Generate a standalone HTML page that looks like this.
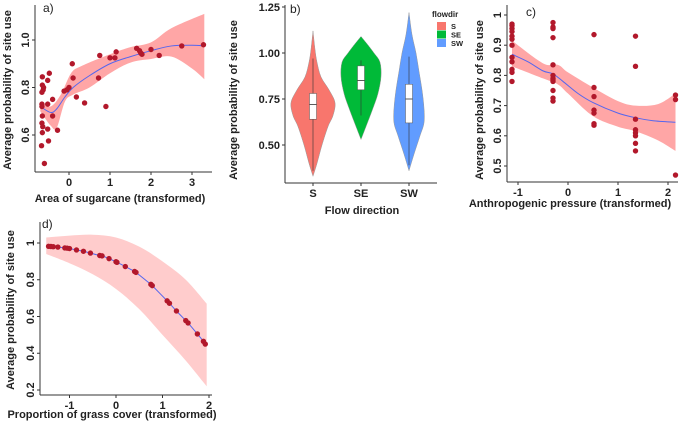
<!DOCTYPE html>
<html><head><meta charset="utf-8"><style>
body{margin:0;background:#fff;width:685px;height:422px;overflow:hidden}
svg{font-family:"Liberation Sans",sans-serif}
.tk{font-size:11px;font-weight:bold;fill:#222}
.tt{font-size:11px;font-weight:bold;fill:#222}
</style></head><body>
<svg id="s" width="685" height="422"></svg>
<script>
// Panel a data
const aX=[-0.65,-0.65,-0.63,-0.66,-0.62,-0.66,-0.66,-0.65,-0.66,-0.64,-0.65,-0.67,-0.6,-0.52,-0.48,-0.52,-0.52,-0.5,-0.4,-0.4,-0.28,-0.12,-0.05,0.0,0.08,0.1,0.18,0.38,0.72,0.75,0.9,1.0,1.12,1.15,1.65,1.72,1.75,1.78,2.0,2.2,2.75,3.28];
const aY=[0.845,0.81,0.79,0.78,0.8,0.73,0.72,0.68,0.65,0.635,0.61,0.555,0.48,0.83,0.86,0.73,0.625,0.575,0.75,0.68,0.62,0.785,0.79,0.8,0.9,0.84,0.76,0.735,0.84,0.935,0.72,0.925,0.925,0.95,0.965,0.955,0.945,0.94,0.96,0.935,0.975,0.98];
const aLx=[-0.7,-0.45,-0.3,-0.1,0.1,0.5,1,1.5,2,2.5,3,3.3];
const aLy=[0.72,0.695,0.71,0.76,0.8,0.85,0.9,0.93,0.955,0.975,0.978,0.975];
const aUx=[-0.7,-0.45,-0.2,0.05,0.3,1,1.5,2,2.5,3.3];
const aUy=[0.74,0.72,0.77,0.86,0.89,0.94,0.97,0.99,1.05,1.11];
const aBx=[-0.7,-0.45,-0.3,-0.1,0.1,0.5,1,1.5,2,2.5,3,3.3];
const aBy=[0.70,0.64,0.63,0.74,0.77,0.8,0.86,0.905,0.92,0.93,0.88,0.835];
const aXt=[0,1,2,3], aYt=[0.6,0.8,1.0], aYl=["0.6","0.8","1.0"];
// Panel b data
const bCats=["S","SE","SW"];
const bColors=["#f8766d","#00ba38","#619cff"];
const bLev=[[0.33,0.4,0.5,0.6,0.66,0.73,0.8,0.87,0.95,1.02,1.12],[0.53,0.6,0.7,0.78,0.87,0.95,1.0,1.05,1.09],[0.36,0.45,0.55,0.62,0.7,0.8,0.9,1.0,1.1,1.22]];
const bDen=[[0,4,9,15,20,22,16,8,4,2,0],[0,5,12,17,20,19,13,6,0],[0,5,11,15,15,13,10,7,3,0]];
const bQ1=[0.64,0.80,0.62],bMed=[0.72,0.85,0.75],bQ3=[0.78,0.93,0.83],bLo=[0.36,0.66,0.39],bHi=[0.97,0.96,0.98];
const bYt=[0.5,0.75,1.0,1.25],bYl=["0.50","0.75","1.00","1.25"];
// Panel c data
const cX=[-1.12,-1.12,-1.12,-1.12,-1.12,-1.12,-1.12,-1.12,-1.12,-1.12,-1.12,-1.12,-0.3,-0.3,-0.3,-0.3,-0.3,-0.3,-0.3,-0.3,-0.3,-0.3,-0.3,-0.3,0.52,0.52,0.52,0.52,0.52,0.52,0.52,1.35,1.35,1.35,1.35,1.35,1.35,1.35,1.35,2.15,2.15,2.15];
const cY=[0.97,0.965,0.955,0.945,0.93,0.92,0.9,0.86,0.845,0.82,0.81,0.78,0.975,0.96,0.955,0.925,0.835,0.8,0.79,0.785,0.78,0.75,0.725,0.715,0.935,0.76,0.73,0.685,0.675,0.64,0.635,0.93,0.83,0.655,0.62,0.61,0.6,0.575,0.55,0.735,0.72,0.47];
const cLx=[-1.12,-0.8,-0.5,-0.3,-0.1,0.2,0.5,1,1.35,1.7,2.15];
const cLy=[0.87,0.845,0.815,0.805,0.78,0.74,0.71,0.675,0.66,0.65,0.645];
const cUx=[-1.12,-0.5,-0.2,0,0.5,1,1.35,1.8,2.15];
const cUy=[0.915,0.84,0.835,0.81,0.76,0.715,0.7,0.705,0.74];
const cBx=[-1.12,-0.5,-0.2,0,0.5,1,1.35,1.8,2.15];
const cBy=[0.83,0.79,0.77,0.74,0.665,0.63,0.615,0.585,0.55];
const cXt=[-1,0,1,2],cYt=[0.5,0.6,0.7,0.8,0.9,1],cYl=["0.5","0.6","0.7","0.8","0.9","1"];
// Panel d data
const dX=[-1.45,-1.4,-1.35,-1.25,-1.1,-1.05,-1.0,-0.85,-0.7,-0.55,-0.35,-0.3,-0.15,0.0,0.02,0.2,0.4,0.43,0.75,0.78,1.1,1.15,1.3,1.5,1.55,1.75,1.88,1.92];
const dY=[0.982,0.981,0.98,0.978,0.973,0.972,0.97,0.962,0.955,0.945,0.932,0.93,0.915,0.898,0.895,0.872,0.845,0.84,0.775,0.768,0.685,0.672,0.63,0.578,0.565,0.505,0.465,0.45];
const dUx=[-1.5,-1,-0.5,0,0.5,1,1.5,1.95],dUy=[1.03,1.04,1.045,1.03,0.98,0.9,0.8,0.67];
const dBx=[-1.5,-1,-0.5,0,0.5,1,1.5,1.95],dBy=[0.94,0.89,0.83,0.75,0.64,0.5,0.36,0.22];
const dXt=[-1,0,1,2],dYt=[0.2,0.4,0.6,0.8,1],dYl=["0.2","0.4","0.6","0.8","1"];

const S=document.getElementById('s');const NS='http://www.w3.org/2000/svg';
function el(t,a,txt){const e=document.createElementNS(NS,t);for(const k in a)e.setAttribute(k,a[k]);if(txt!==undefined)e.textContent=txt;S.appendChild(e);return e;}
function lin(d0,d1,p0,p1){return v=>p0+(v-d0)/(d1-d0)*(p1-p0);}
function smooth(P){let d='';for(let i=0;i<P.length-1;i++){const p0=P[Math.max(0,i-1)],p1=P[i],p2=P[i+1],p3=P[Math.min(P.length-1,i+2)];
 if(i===0)d+='M'+p1[0]+','+p1[1];
 d+='C'+(p1[0]+(p2[0]-p0[0])/6)+','+(p1[1]+(p2[1]-p0[1])/6)+' '+(p2[0]-(p3[0]-p1[0])/6)+','+(p2[1]-(p3[1]-p1[1])/6)+' '+p2[0]+','+p2[1];}return d;}
function axes(L,B,R,T,xs,ys,xt,xl,yt,yl,name,xRot,yRot){
  let e=el('line',{x1:L,y1:T,x2:L,y2:B,stroke:'#333','stroke-width':1});
  
  e=el('line',{x1:L,y1:B,x2:R,y2:B,stroke:'#333','stroke-width':1});
  
  xt.forEach((v,i)=>{el('line',{x1:xs(v),y1:B,x2:xs(v),y2:B+3,stroke:'#333'});
    e=el('text',{x:xs(v),y:B+14,'text-anchor':'middle',class:'tk'},xl[i]);
    });
  yt.forEach((v,i)=>{el('line',{x1:L-3,y1:ys(v),x2:L,y2:ys(v),stroke:'#333'});
    if(yRot){e=el('text',{x:0,y:0,transform:`translate(${L-6},${ys(v)}) rotate(-90)`,'text-anchor':'middle',class:'tk'},yl[i]);}
    else{e=el('text',{x:L-5,y:ys(v)+4,'text-anchor':'end',class:'tk'},yl[i]);}
    });
}
function band(xs,ys,ux,uy,bx,by,name,col){
  const U=ux.map((v,i)=>[xs(v),ys(uy[i])]);const Bp=bx.map((v,i)=>[xs(v),ys(by[i])]).reverse();
  let d=smooth(U)+'L'+smooth(Bp).slice(1)+'Z';
  const e=el('path',{d:d,fill:col||'#f88','fill-opacity':0.75,stroke:'none'});
  
}
function line(xs,ys,X,Y,name){
  const e=el('path',{d:smooth(X.map((v,i)=>[xs(v),ys(Y[i])])),fill:'none',stroke:'#5566ee','stroke-width':1});
  
}
function pts(xs,ys,X,Y,name,r){X.forEach((v,i)=>{const e=el('circle',{cx:xs(v),cy:ys(Y[i]),r:r||2.7,fill:'#b2182b'});
  });}
function ttl(x,y,t,rot,name){const e=el('text',rot?{x:0,y:0,transform:`translate(${x},${y}) rotate(-90)`,'text-anchor':'middle',class:'tt'}:{x:x,y:y,'text-anchor':'middle',class:'tt'},t);
  }
function plab(x,y,t,name){const e=el('text',{x:x,y:y,'font-size':12,fill:'#222'},t);}

// Panel a
{const xs=lin(0,3,69,192),ys=lin(0.6,1.0,135,40);
band(xs,ys,aUx,aUy,aBx,aBy,'panel-a');line(xs,ys,aLx,aLy,'panel-a');pts(xs,ys,aX,aY,'panel-a');
axes(35,172,212,5,xs,ys,aXt,aXt.map(String),aYt,aYl,'panel-a',0,1);
ttl(120,202,'Area of sugarcane (transformed)',0,'panel-a-x-title');ttl(11,90,'Average probability of site use',1,'panel-a-y-title');
plab(43,12,'a)','panel-a-label');}
// Panel b
{const xs=lin(0,2,313,409),ys=lin(0.5,1.0,145,53);
bCats.forEach((c,i)=>{const cx=xs(i);
 const R=bLev[i].map((v,j)=>[cx+bDen[i][j],ys(v)]);const Lf=bLev[i].map((v,j)=>[cx-bDen[i][j],ys(v)]).reverse();
 let d=smooth(R)+'L'+smooth(Lf).slice(1)+'Z';
 let e=el('path',{d:d,fill:bColors[i],stroke:'#999','stroke-width':0.5});
 
 e=el('line',{x1:cx,y1:ys(bLo[i]),x2:cx,y2:ys(bHi[i]),stroke:'#333','stroke-width':0.6});
 
 e=el('rect',{x:cx-3.5,y:ys(bQ3[i]),width:7,height:ys(bQ1[i])-ys(bQ3[i]),fill:'#fff',stroke:'#555','stroke-width':0.5});
 
 e=el('line',{x1:cx-3.5,y1:ys(bMed[i]),x2:cx+3.5,y2:ys(bMed[i]),stroke:'#333','stroke-width':0.8});
 });
axes(285,183,437,5,xs,ys,[0,1,2],bCats,bYt,bYl,'panel-b',0,0);
ttl(362,214,'Flow direction',0,'panel-b-x-title');ttl(237,100,'Average probability of site use',1,'panel-b-y-title');
plab(290,13,'b)','panel-b-label');
let e=el('text',{x:432,y:17,'font-size':8,'font-weight':'bold',fill:'#222'},'flowdir');
bCats.forEach((c,i)=>{let r=el('rect',{x:437,y:22+i*8.5,width:9,height:8,fill:bColors[i]});
 let t=el('text',{x:451,y:29+i*8.5,'font-size':7.5,'font-weight':'bold',fill:'#222'},c);});}
// Panel c
{const xs=lin(-1,2,518,668),ys=lin(0.5,1.0,166,15);
band(xs,ys,cUx,cUy,cBx,cBy,'panel-c');line(xs,ys,cLx,cLy,'panel-c');pts(xs,ys,cX,cY,'panel-c');
axes(507,182,678,5,xs,ys,cXt,cXt.map(String),cYt,cYl,'panel-c',0,1);
ttl(570,207,'Anthropogenic pressure (transformed)',0,'panel-c-x-title');ttl(483,100,'Average probability of site use',1,'panel-c-y-title');
plab(526,16,'c)','panel-c-label');}
// Panel d
{const xs=lin(0,2,116,209),ys=lin(0.2,1.0,390,243);
band(xs,ys,dUx,dUy,dBx,dBy,'panel-d','#fbb');line(xs,ys,dX,dY,'panel-d');pts(xs,ys,dX,dY,'panel-d');
axes(40,395,212,222,xs,ys,dXt,dXt.map(String),dYt,dYl,'panel-d',0,1);
ttl(112,418,'Proportion of grass cover (transformed)',0,'panel-d-x-title');ttl(14,310,'Average probability of site use',1,'panel-d-y-title');
plab(42,228,'d)','panel-d-label');}
</script>
</body></html>
